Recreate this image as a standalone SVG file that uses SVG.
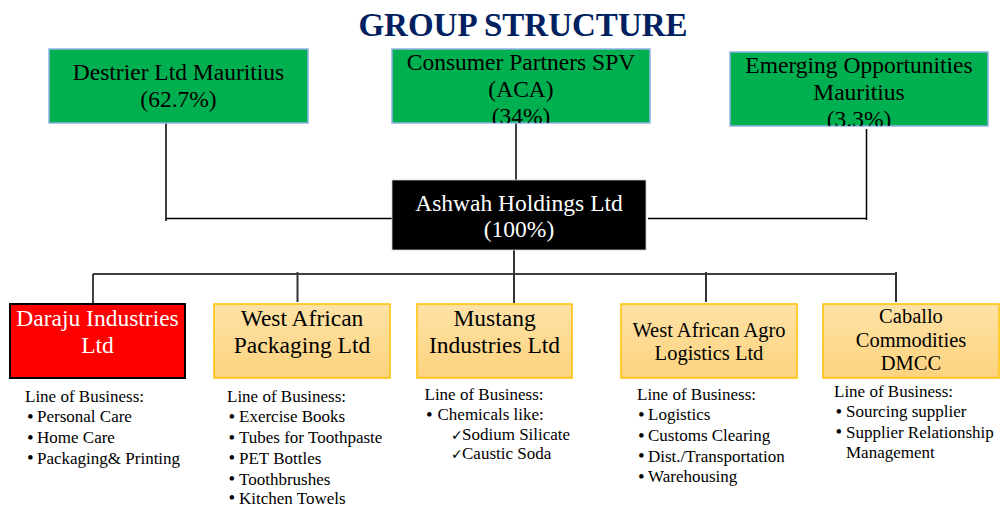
<svg xmlns="http://www.w3.org/2000/svg" width="1001" height="506" viewBox="0 0 1001 506">
  <style>
    text { font-family: "Liberation Serif", "Times New Roman", serif; }
    .title { font-size: 33px; font-weight: bold; fill: #002060; text-anchor: middle; }
    .lbl { font-size: 23.5px; fill: #000; text-anchor: middle; }
    .lbl-w { font-size: 23.5px; fill: #fff; text-anchor: middle; }
    .lbl-s { font-size: 20.5px; fill: #000; text-anchor: middle; }
    .list { font-size: 17px; fill: #000; }
    .bul { font-size: 19px; }
    .chk { font-family: "DejaVu Sans", sans-serif; font-size: 14px; }
    .owner { fill: #00b050; stroke: #8eb4e3; stroke-width: 1.5; }
    .holding { fill: #000; stroke: #d0d0d0; stroke-width: 0.8; }
    .sub { fill: url(#subFill); stroke: #ffc000; stroke-width: 1.5; }
    .sub-red { fill: #ff0000; stroke: #000; stroke-width: 2; }
    .wire { fill: none; stroke: #000; stroke-width: 1.5; }
    .drop { fill: none; stroke: #333; stroke-width: 2; }
  </style>
  <defs>
    <linearGradient id="subFill" x1="0" y1="0" x2="0" y2="1">
      <stop offset="0" stop-color="#fee2a6"/>
      <stop offset="1" stop-color="#fdd37e"/>
    </linearGradient>
    <clipPath id="clipConsumer"><rect x="392" y="49" width="258" height="74"/></clipPath>
    <clipPath id="clipEmerging"><rect x="730" y="52" width="258" height="74"/></clipPath>
  </defs>

  <rect width="1001" height="506" fill="#fff"/>

  <text class="title" x="523" y="36">GROUP STRUCTURE</text>

  <!-- ownership and subsidiary links -->
  <g id="connectors">
    <path class="wire" d="M166 123 V221 M166 218.5 H392"/>
    <path class="wire" d="M516 123 V180"/>
    <path class="wire" d="M866.5 129 V220 M648 218.5 H866.5"/>
    <path class="wire" d="M93 274 H896"/>
    <path class="drop" d="M514 250 V303"/>
    <path class="wire" d="M93 274 V303"/>
    <path class="drop" d="M297.5 272 V302"/>
    <path class="drop" d="M706 272 V302"/>
    <path class="drop" d="M896 272 V302"/>
  </g>

  <!-- shareholders -->
  <g id="destrier">
    <rect class="owner" x="49" y="49" width="259" height="74"/>
    <text class="lbl" x="178.5" y="80">Destrier Ltd Mauritius</text>
    <text class="lbl" x="178.5" y="107">(62.7%)</text>
  </g>
  <g id="consumer-partners">
    <rect class="owner" x="392" y="49" width="258" height="74"/>
    <g clip-path="url(#clipConsumer)">
      <text class="lbl" x="521" y="70">Consumer Partners SPV</text>
      <text class="lbl" x="521" y="97">(ACA)</text>
      <text class="lbl" x="521" y="124">(34%)</text>
    </g>
  </g>
  <g id="emerging-opportunities">
    <rect class="owner" x="730" y="52" width="258" height="74"/>
    <g clip-path="url(#clipEmerging)">
      <text class="lbl" x="859" y="73">Emerging Opportunities</text>
      <text class="lbl" x="859" y="100">Mauritius</text>
      <text class="lbl" x="859" y="127">(3.3%)</text>
    </g>
  </g>

  <!-- holding company -->
  <g id="ashwah">
    <rect class="holding" x="392" y="180" width="254" height="70"/>
    <text class="lbl-w" x="519" y="211">Ashwah Holdings Ltd</text>
    <text class="lbl-w" x="519" y="237">(100%)</text>
  </g>

  <!-- subsidiaries -->
  <g id="daraju">
    <rect class="sub-red" x="10" y="304" width="175" height="74"/>
    <text class="lbl-w" x="97.5" y="326">Daraju Industries</text>
    <text class="lbl-w" x="97.5" y="353">Ltd</text>
    <text class="list" x="25" y="401.5">Line of Business:</text>
    <text class="list"><tspan class="bul" x="27" y="422.5">•</tspan><tspan x="37" y="422">Personal Care</tspan></text>
    <text class="list"><tspan class="bul" x="27" y="443.5">•</tspan><tspan x="37" y="443">Home Care</tspan></text>
    <text class="list"><tspan class="bul" x="27" y="464">•</tspan><tspan x="37" y="463.5">Packaging&amp; Printing</tspan></text>
  </g>

  <g id="west-african-packaging">
    <rect class="sub" x="214" y="304" width="176" height="74"/>
    <text class="lbl" x="302" y="326">West African</text>
    <text class="lbl" x="302" y="353">Packaging Ltd</text>
    <text class="list" x="227" y="401.5">Line of Business:</text>
    <text class="list"><tspan class="bul" x="228.5" y="422.5">•</tspan><tspan x="239" y="422">Exercise Books</tspan></text>
    <text class="list"><tspan class="bul" x="228.5" y="443.5">•</tspan><tspan x="239" y="443">Tubes for Toothpaste</tspan></text>
    <text class="list"><tspan class="bul" x="228.5" y="464">•</tspan><tspan x="239" y="463.5">PET Bottles</tspan></text>
    <text class="list"><tspan class="bul" x="228.5" y="485">•</tspan><tspan x="239" y="484.5">Toothbrushes</tspan></text>
    <text class="list"><tspan class="bul" x="228.5" y="504">•</tspan><tspan x="239" y="503.5">Kitchen Towels</tspan></text>
  </g>

  <g id="mustang">
    <rect class="sub" x="417" y="304" width="155" height="74"/>
    <text class="lbl" x="494.5" y="326">Mustang</text>
    <text class="lbl" x="494.5" y="353">Industries Ltd</text>
    <text class="list" x="424.5" y="399.5">Line of Business:</text>
    <text class="list"><tspan class="bul" x="426" y="420.5">•</tspan><tspan x="437.5" y="420">Chemicals like:</tspan></text>
    <text class="list"><tspan class="chk" x="451" y="439.5">✓</tspan><tspan x="462" y="439.5">Sodium Silicate</tspan></text>
    <text class="list"><tspan class="chk" x="451" y="459">✓</tspan><tspan x="462" y="459">Caustic Soda</tspan></text>
  </g>

  <g id="west-african-agro">
    <rect class="sub" x="621" y="304" width="176" height="74"/>
    <text class="lbl-s" x="709" y="337">West African Agro</text>
    <text class="lbl-s" x="709" y="360">Logistics Ltd</text>
    <text class="list" x="637" y="400">Line of Business:</text>
    <text class="list"><tspan class="bul" x="638" y="420.5">•</tspan><tspan x="648" y="420">Logistics</tspan></text>
    <text class="list"><tspan class="bul" x="638" y="441.5">•</tspan><tspan x="648" y="441">Customs Clearing</tspan></text>
    <text class="list"><tspan class="bul" x="638" y="462">•</tspan><tspan x="648" y="461.5">Dist./Transportation</tspan></text>
    <text class="list"><tspan class="bul" x="638" y="482.5">•</tspan><tspan x="648" y="482">Warehousing</tspan></text>
  </g>

  <g id="caballo">
    <rect class="sub" x="823" y="304" width="176" height="74"/>
    <text class="lbl-s" x="911" y="323">Caballo</text>
    <text class="lbl-s" x="911" y="346.5">Commodities</text>
    <text class="lbl-s" x="911" y="370">DMCC</text>
    <text class="list" x="834" y="397">Line of Business:</text>
    <text class="list"><tspan class="bul" x="835.5" y="417.5">•</tspan><tspan x="846" y="417">Sourcing supplier</tspan></text>
    <text class="list"><tspan class="bul" x="835.5" y="438">•</tspan><tspan x="846" y="437.5">Supplier Relationship</tspan></text>
    <text class="list" x="846" y="458">Management</text>
  </g>
</svg>
